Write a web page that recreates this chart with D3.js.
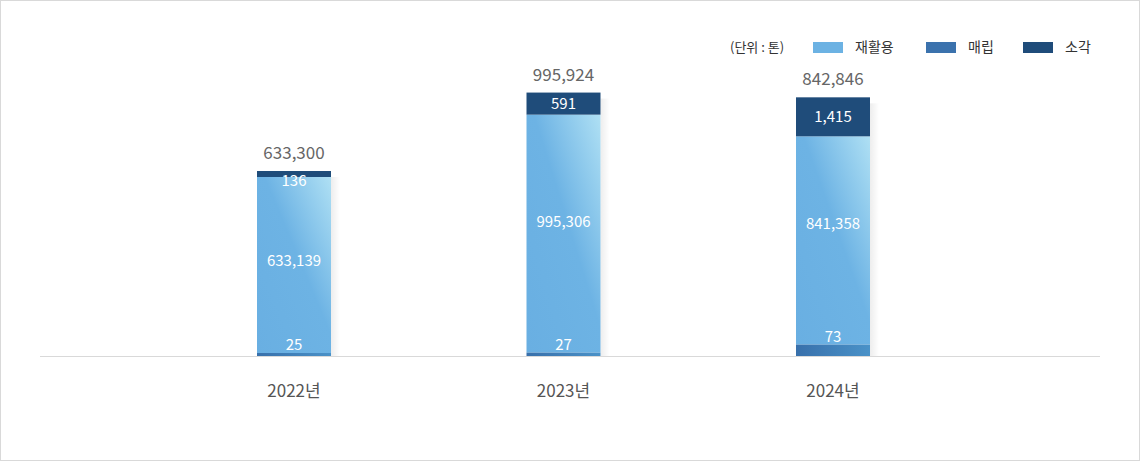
<!DOCTYPE html>
<html>
<head>
<meta charset="utf-8">
<script src="https://cdn.jsdelivr.net/npm/d3@7"></script>
<style>
  body { margin: 0; background: #fff; }
  text { font-family: "Noto Sans CJK KR", "Noto Sans", sans-serif; }
</style>
</head>
<body>
<script>
let width = 1140;
let height = 461;

// data
let years = ['2022년', '2023년', '2024년'];
let recycle = [633139, 995306, 841358];   // 재활용
let landfill = [25, 27, 73];              // 매립
let burn = [136, 591, 1415];              // 소각
let totals = [633300, 995924, 842846];
let seriesNames = ['재활용', '매립', '소각'];
let seriesColors = ['#6cb2e3', '#3b72ad', '#1f4c7a'];

let baseY = 356;
let barWidth = 74;

let svg = d3.select('body').append('svg')
            .attr('width', width)
            .attr('height', height);

let defs = svg.append('defs');

let gRecycle = defs.append('linearGradient')
    .attr('id', 'gradRecycle')
    .attr('x1', 0).attr('y1', 1).attr('x2', 1).attr('y2', 0);
gRecycle.append('stop').attr('offset', 0).attr('stop-color', '#69afe2');
gRecycle.append('stop').attr('offset', 0.55).attr('stop-color', '#6db3e4');
gRecycle.append('stop').attr('offset', 1).attr('stop-color', '#afe0f4');

let gLand = defs.append('linearGradient')
    .attr('id', 'gradLand')
    .attr('x1', 0).attr('y1', 0).attr('x2', 1).attr('y2', 0);
gLand.append('stop').attr('offset', 0).attr('stop-color', '#3870ab');
gLand.append('stop').attr('offset', 1).attr('stop-color', '#4a92c8');

let gShadow = defs.append('linearGradient')
    .attr('id', 'gradShadow')
    .attr('x1', 0).attr('y1', 0).attr('x2', 1).attr('y2', 0);
gShadow.append('stop').attr('offset', 0).attr('stop-color', '#000').attr('stop-opacity', 0.07);
gShadow.append('stop').attr('offset', 1).attr('stop-color', '#000').attr('stop-opacity', 0);

// frame
svg.append('rect')
    .attr('x', 0.5).attr('y', 0.5)
    .attr('width', width - 1).attr('height', height - 1)
    .attr('fill', 'none')
    .attr('stroke', '#d9d9d9');

let xScale = d3.scalePoint()
    .domain(years)
    .range([294, 833]);

// each series gets its own visual scale (values differ by orders of magnitude)
let yRecycle = d3.scalePow().exponent(2)
    .domain([633139, 995306])
    .range([176, 238]);
let yBurn = d3.scaleSqrt()
    .domain([136, 1415])
    .range([6, 39]);
let yLand = d3.scaleLinear()
    .domain([25, 73])
    .range([3, 11.4]);

let bars = years.map(function(y, i) {
    let hL = yLand(landfill[i]);
    let hR = yRecycle(recycle[i]);
    let hB = yBurn(burn[i]);
    return {
        year: y, i: i,
        landTop: baseY - hL, hL: hL,
        recTop: baseY - hL - hR, hR: hR,
        burnTop: baseY - hL - hR - hB, hB: hB
    };
});

// baseline
svg.append('line')
    .attr('x1', 40).attr('x2', 1100)
    .attr('y1', baseY + 0.5).attr('y2', baseY + 0.5)
    .attr('stroke', '#d9d9d9');

let g = svg.append('g');

// shadow right of bars
g.selectAll('.shadow')
    .data(bars)
    .enter()
    .append('rect')
    .attr('class', 'shadow')
    .attr('x', function(d) { return xScale(d.year) + barWidth / 2; })
    .attr('y', function(d) { return d.burnTop + 6; })
    .attr('width', 9)
    .attr('height', function(d) { return baseY - d.burnTop - 6; })
    .attr('fill', 'url(#gradShadow)');

g.selectAll('.rec')
    .data(bars)
    .enter()
    .append('rect')
    .attr('class', 'rec')
    .attr('x', function(d) { return xScale(d.year) - barWidth / 2; })
    .attr('y', function(d) { return d.recTop; })
    .attr('width', barWidth)
    .attr('height', function(d) { return d.hR; })
    .attr('fill', 'url(#gradRecycle)');

g.selectAll('.land')
    .data(bars)
    .enter()
    .append('rect')
    .attr('class', 'land')
    .attr('x', function(d) { return xScale(d.year) - barWidth / 2; })
    .attr('y', function(d) { return d.landTop; })
    .attr('width', barWidth)
    .attr('height', function(d) { return d.hL; })
    .attr('fill', 'url(#gradLand)');

g.selectAll('.burn')
    .data(bars)
    .enter()
    .append('rect')
    .attr('class', 'burn')
    .attr('x', function(d) { return xScale(d.year) - barWidth / 2; })
    .attr('y', function(d) { return d.burnTop; })
    .attr('width', barWidth)
    .attr('height', function(d) { return d.hB; })
    .attr('fill', seriesColors[2]);

let fmt = d3.format(',');

// value labels
g.selectAll('.recLabel')
    .data(bars)
    .enter()
    .append('text')
    .attr('x', function(d) { return xScale(d.year); })
    .attr('y', function(d) { return (d.burnTop + baseY) / 2 - 3; })
    .attr('dy', '0.35em')
    .attr('text-anchor', 'middle')
    .attr('fill', '#fff')
    .attr('font-size', 15)
    .text(function(d) { return fmt(recycle[d.i]); });

g.selectAll('.burnLabel')
    .data(bars)
    .enter()
    .append('text')
    .attr('x', function(d) { return xScale(d.year); })
    .attr('y', function(d) { return Math.max(d.burnTop + d.hB / 2, d.burnTop + 10); })
    .attr('dy', '0.35em')
    .attr('text-anchor', 'middle')
    .attr('fill', '#fff')
    .attr('font-size', 15)
    .text(function(d) { return fmt(burn[d.i]); });

g.selectAll('.landLabel')
    .data(bars)
    .enter()
    .append('text')
    .attr('x', function(d) { return xScale(d.year); })
    .attr('y', function(d) { return d.landTop - 3; })
    .attr('text-anchor', 'middle')
    .attr('fill', '#fff')
    .attr('font-size', 15)
    .text(function(d) { return fmt(landfill[d.i]); });

g.selectAll('.totalLabel')
    .data(bars)
    .enter()
    .append('text')
    .attr('x', function(d) { return xScale(d.year); })
    .attr('y', function(d) { return d.burnTop - 12; })
    .attr('text-anchor', 'middle')
    .attr('fill', '#666')
    .attr('font-size', 17)
    .text(function(d) { return fmt(totals[d.i]); });

// x axis labels
g.selectAll('.yearLabel')
    .data(years)
    .enter()
    .append('text')
    .attr('x', function(d) { return xScale(d); })
    .attr('y', 397)
    .attr('text-anchor', 'middle')
    .attr('fill', '#555')
    .attr('font-size', 17)
    .text(function(d) { return d; });

// legend
let legend = svg.append('g');
legend.append('text')
    .attr('x', 730).attr('y', 47)
    .attr('dy', '0.35em')
    .attr('fill', '#333')
    .attr('font-size', 13)
    .text('(단위 : 톤)');

let legendX = [813, 926, 1023];
let items = legend.selectAll('.item')
    .data(seriesNames)
    .enter()
    .append('g')
    .attr('transform', function(d, i) { return 'translate(' + legendX[i] + ',0)'; });

items.append('rect')
    .attr('x', 0).attr('y', 42)
    .attr('width', 30).attr('height', 11)
    .attr('fill', function(d, i) { return seriesColors[i]; });

items.append('text')
    .attr('x', 42).attr('y', 47)
    .attr('dy', '0.35em')
    .attr('fill', '#333')
    .attr('font-size', 14)
    .text(function(d) { return d; });
</script>
</body>
</html>
